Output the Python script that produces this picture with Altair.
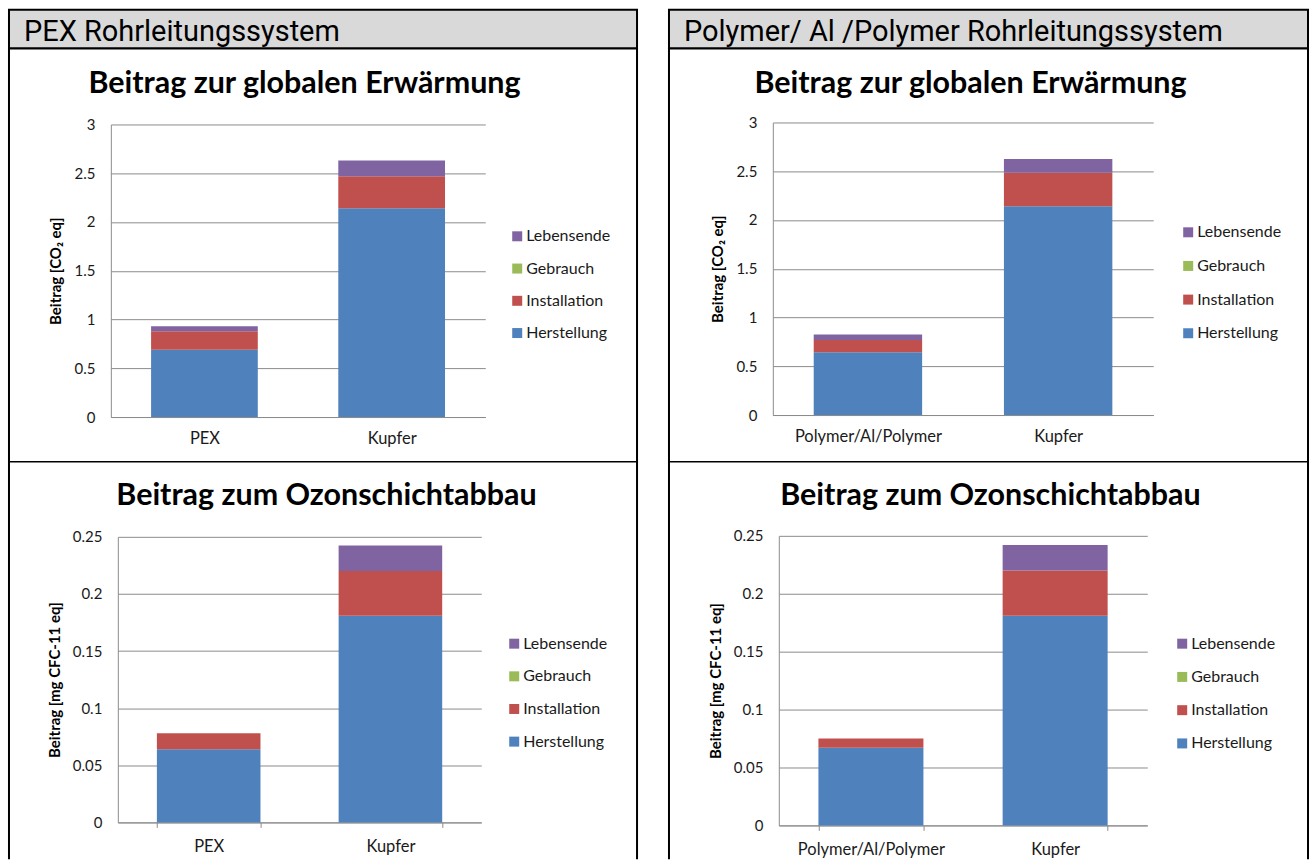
import altair as alt
import pandas as pd

# ---------------- data ----------------
phases = ["Herstellung", "Installation", "Gebrauch", "Lebensende"]
legend_order = ["Lebensende", "Gebrauch", "Installation", "Herstellung"]
legend_colors = ["#8064A2", "#9BBB59", "#C0504D", "#4F81BD"]

cats_pex = ["PEX", "Kupfer"]
cats_pap = ["Polymer/Al/Polymer", "Kupfer"]

# values per phase (Herstellung, Installation, Gebrauch, Lebensende)
gwp_pex_pex = [0.69, 0.19, 0.0, 0.05]
gwp_pex_kupfer = [2.14, 0.33, 0.0, 0.16]
odp_pex_pex = [0.064, 0.014, 0.0, 0.0]
odp_pex_kupfer = [0.181, 0.039, 0.0, 0.0225]

gwp_pap_pap = [0.645, 0.125, 0.0, 0.056]
gwp_pap_kupfer = [2.14, 0.345, 0.0, 0.14]
odp_pap_pap = [0.067, 0.008, 0.0, 0.0]
odp_pap_kupfer = [0.181, 0.039, 0.0, 0.022]

gwp_ticks = [0, 0.5, 1, 1.5, 2, 2.5, 3]
odp_ticks = [0, 0.05, 0.1, 0.15, 0.2, 0.25]

header_left = "PEX Rohrleitungssystem"
header_right = "Polymer/ Al /Polymer Rohrleitungssystem"
title_gwp = "Beitrag zur globalen Erwärmung"
title_odp = "Beitrag zum Ozonschichtabbau"
ytitle_gwp = "Beitrag [CO₂ eq]"
ytitle_odp = "Beitrag [mg CFC-11 eq]"

FONT = "Lato"
TXT = "#1a1a1a"
GRID = "#8c8c8c"


def make_df(cats, a, b):
    rows = []
    for cat, vals in zip(cats, [a, b]):
        for i, (p, v) in enumerate(zip(phases, vals)):
            rows.append({"Kategorie": cat, "Phase": p, "idx": i, "Wert": v})
    return pd.DataFrame(rows)


def panel(df, cats, title, ytitle, ymax, yvals, W, H, px0, px1, pyt, pyb,
          tcx, tcy, lgx, lgy, lgpad, bottom):
    xaxis = alt.Axis(
        orient="bottom", offset=-(H - pyb), labelAngle=0, labelFont=FONT,
        labelFontSize=16.5, labelColor=TXT, domainColor=GRID, tickColor=GRID,
        ticks=bottom, tickSize=5 if bottom else 0, tickBand="extent",
        labelPadding=11 if bottom else 14, grid=False,
    )
    yaxis = alt.Axis(
        orient="left", offset=-px0, values=yvals, format="~g", grid=True,
        gridColor=GRID, domainColor=GRID, ticks=False, labelPadding=16,
        labelFont=FONT, labelFontSize=15, labelColor=TXT,
        titleFont=FONT, titleFontSize=15, titleFontWeight="bold",
        titleColor="#000000", titlePadding=10,
    )
    bars = alt.Chart(df).mark_bar().encode(
        x=alt.X("Kategorie:N", sort=cats, title=None, axis=xaxis,
                scale=alt.Scale(range=[px0, px1], paddingInner=0.43,
                                paddingOuter=0.215)),
        y=alt.Y("Wert:Q", stack="zero", title=ytitle, axis=yaxis,
                scale=alt.Scale(domain=[0, ymax], range=[pyb, pyt], nice=False)),
        color=alt.Color("Phase:N",
                        scale=alt.Scale(domain=legend_order, range=legend_colors),
                        legend=alt.Legend(orient="none", legendX=lgx, legendY=lgy,
                                          title=None, symbolType="square",
                                          symbolSize=100, symbolStrokeWidth=0,
                                          labelFont=FONT, labelFontSize=16,
                                          labelColor=TXT, rowPadding=lgpad,
                                          labelOffset=1)),
        order=alt.Order("idx:Q", sort="ascending"),
    )
    ttl = alt.Chart(pd.DataFrame({"t": [title]})).mark_text(
        font=FONT, fontSize=30.5, fontWeight="bold", color="#000000",
        baseline="middle", align="center",
    ).encode(text="t:N", x=alt.value(tcx), y=alt.value(tcy))
    layers = [bars, ttl]
    if bottom:
        edges = alt.Chart(pd.DataFrame({"e": [0, W]})).mark_rule(
            color="#000000", strokeWidth=2
        ).encode(x=alt.X("e:Q", scale=None), y=alt.value(0), y2=alt.value(H))
        layers.append(edges)
        view = alt.ViewBackground(stroke="transparent", fill="white")
    else:
        view = alt.ViewBackground(stroke="#000000", strokeWidth=2, fill="white")
    return alt.layer(*layers).properties(width=W, height=H, view=view)


def header(text, W):
    return alt.Chart(pd.DataFrame({"t": [text]})).mark_text(
        font="Roboto", fontSize=29, color="#000000", align="left",
        baseline="middle",
    ).encode(text="t:N", x=alt.value(15), y=alt.value(22)).properties(
        width=W, height=39,
        view=alt.ViewBackground(stroke="#000000", strokeWidth=2, fill="#d9d9d9"),
    )


WL, WR = 629, 640
HT, HB = 414, 398

cells = [
    header(header_left, WL),
    header(header_right, WR),
    panel(make_df(cats_pex, gwp_pex_pex, gwp_pex_kupfer), cats_pex, title_gwp,
          ytitle_gwp, 3, gwp_ticks, WL, HT, 102, 477, 76, 369, 296, 35, 501, 180,
          16.3, False),
    panel(make_df(cats_pap, gwp_pap_pap, gwp_pap_kupfer), cats_pap, title_gwp,
          ytitle_gwp, 3, gwp_ticks, WR, HT, 104, 485, 74, 367, 302, 35, 512, 176,
          17.7, False),
    panel(make_df(cats_pex, odp_pex_pex, odp_pex_kupfer), cats_pex, title_odp,
          ytitle_odp, 0.25, odp_ticks, WL, HB, 109, 473, 75, 361, 318, 34, 498, 174,
          16.7, True),
    panel(make_df(cats_pap, odp_pap_pap, odp_pap_kupfer), cats_pap, title_odp,
          ytitle_odp, 0.25, odp_ticks, WR, HB, 110, 479, 74, 364, 322, 34, 506, 174,
          17.3, True),
]

chart = alt.concat(
    *cells, columns=2, spacing={"row": 0, "column": 32}, bounds="flush",
    align="each",
).resolve_scale(
    color="independent", x="independent", y="independent"
).properties(
    padding={"left": 7, "top": 8, "right": 2, "bottom": 0},
    background="white",
)

chart.save("out.html", embed_options={"renderer": "svg", "actions": False})
